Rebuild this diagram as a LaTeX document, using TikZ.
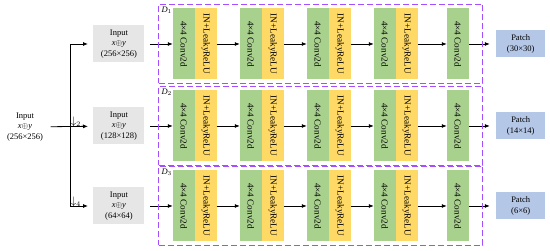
\documentclass[tikz,border=0pt]{standalone}
\usepackage{fontspec}
\setmainfont{Liberation Serif}
\usepackage{graphicx}
\usetikzlibrary{arrows.meta,positioning,fit}
\definecolor{convgreen}{HTML}{A9D18E}
\definecolor{normyellow}{HTML}{FFD966}
\definecolor{ingray}{HTML}{E7E6E6}
\definecolor{patchblue}{HTML}{B4C7E7}
\definecolor{stagepurple}{HTML}{A64DFF}
\newcommand{\convlbl}{\rotatebox{-90}{4×4 Conv2d}}
\newcommand{\normlbl}{\rotatebox{-90}{IN+LeakyReLU}}
\newcommand{\xy}{\textit{x}$\oplus$\textit{y}}
\tikzset{
  inbox/.style={fill=ingray,minimum width=51pt,minimum height=37pt,inner sep=1pt,align=center},
  outbox/.style={fill=patchblue,minimum width=49pt,minimum height=27pt,inner sep=1pt,align=center},
  conv/.style={fill=convgreen,minimum width=22pt,minimum height=71pt,inner sep=0pt,outer sep=0pt,font=\fontsize{9.2}{11}\selectfont},
  norm/.style={fill=normyellow,minimum width=22pt,minimum height=71pt,inner sep=0pt,outer sep=0pt,font=\fontsize{9.2}{11}\selectfont},
  stage/.style={draw=stagepurple,line width=1.2pt,dash pattern=on 6pt off 3pt,inner xsep=14pt,inner ysep=4pt},
  dlbl/.style={anchor=north west,inner sep=0pt,xshift=3pt,yshift=-2.5pt},
  down/.style={anchor=west,inner sep=0.5pt,font=\fontsize{10.5}{12}\selectfont}
}

\begin{document}
\begin{tikzpicture}[x=1pt,y=1pt,node distance=23pt,>={Latex[length=5pt,width=4pt]},line width=0.8pt,
    every node/.style={font=\fontsize{8.5}{10.5}\selectfont}]
  \useasboundingbox (0,0) rectangle (550,251);
  \node[align=center] (src) at (25,124) {Input\\\xy\\(256×256)};
  \coordinate (split) at (70,125);
  \coordinate (turn1) at (70,207);
  \coordinate (turn3) at (70,45);

  % scale 1
  \node[inbox,right=23pt of turn1] (in1) {Input\\\xy\\(256×256)};
  \node[conv,right=28pt of in1] (c11) {\convlbl}; \node[norm,right=0pt of c11] (n11) {\normlbl};
  \node[conv,right=of n11] (c12) {\convlbl}; \node[norm,right=0pt of c12] (n12) {\normlbl};
  \node[conv,right=of n12] (c13) {\convlbl}; \node[norm,right=0pt of c13] (n13) {\normlbl};
  \node[conv,right=of n13] (c14) {\convlbl}; \node[norm,right=0pt of c14] (n14) {\normlbl};
  \node[conv,right=29pt of n14] (c15) {\convlbl};
  \node[outbox,right=27pt of c15] (out1) {Patch\\(30×30)};
  \draw[->,shorten <=5pt] (in1)--(c11); \draw[->] (n11)--(c12); \draw[->] (n12)--(c13); \draw[->] (n13)--(c14);
  \draw[->] (n14)--(c15); \draw[->,shorten >=6pt] (c15)--(out1);
  \node[stage,fit=(c11)(c15),label={[dlbl]north west:\textit{D}$_1$}] (d1) {};

  % scale 1/2
  \node[inbox,right=23pt of split] (in2) {Input\\\xy\\(128×128)};
  \node[conv,right=28pt of in2] (c21) {\convlbl}; \node[norm,right=0pt of c21] (n21) {\normlbl};
  \node[conv,right=of n21] (c22) {\convlbl}; \node[norm,right=0pt of c22] (n22) {\normlbl};
  \node[conv,right=of n22] (c23) {\convlbl}; \node[norm,right=0pt of c23] (n23) {\normlbl};
  \node[conv,right=of n23] (c24) {\convlbl}; \node[norm,right=0pt of c24] (n24) {\normlbl};
  \node[conv,right=29pt of n24] (c25) {\convlbl};
  \node[outbox,right=27pt of c25] (out2) {Patch\\(14×14)};
  \draw[->,shorten <=5pt] (in2)--(c21); \draw[->] (n21)--(c22); \draw[->] (n22)--(c23); \draw[->] (n23)--(c24);
  \draw[->] (n24)--(c25); \draw[->,shorten >=6pt] (c25)--(out2);
  \node[stage,fit=(c21)(c25),label={[dlbl]north west:\textit{D}$_2$}] (d2) {};

  % scale 1/4
  \node[inbox,right=23pt of turn3] (in3) {Input\\\xy\\(64×64)};
  \node[conv,right=28pt of in3] (c31) {\convlbl}; \node[norm,right=0pt of c31] (n31) {\normlbl};
  \node[conv,right=of n31] (c32) {\convlbl}; \node[norm,right=0pt of c32] (n32) {\normlbl};
  \node[conv,right=of n32] (c33) {\convlbl}; \node[norm,right=0pt of c33] (n33) {\normlbl};
  \node[conv,right=of n33] (c34) {\convlbl}; \node[norm,right=0pt of c34] (n34) {\normlbl};
  \node[conv,right=29pt of n34] (c35) {\convlbl};
  \node[outbox,right=27pt of c35] (out3) {Patch\\(6×6)};
  \draw[->,shorten <=5pt] (in3)--(c31); \draw[->] (n31)--(c32); \draw[->] (n32)--(c33); \draw[->] (n33)--(c34);
  \draw[->] (n34)--(c35); \draw[->,shorten >=6pt] (c35)--(out3);
  \node[stage,fit=(c31)(c35),label={[dlbl]north west:\textit{D}$_3$}] (d3) {};

  % branches to the three scales
  \draw[->,shorten <=4pt,shorten >=5pt] (src)--(in2);
  \draw (turn1)--(turn3);
  \draw[->,shorten >=5pt] (turn1)--(in1); \draw[->,shorten >=5pt] (turn3)--(in3);
  \node[down] (ds2) at ([yshift=4pt]split) {$\downarrow_{2}$};
  \node[down] (ds4) at ([yshift=4pt]turn3) {$\downarrow_{4}$};
\end{tikzpicture}
\end{document}
